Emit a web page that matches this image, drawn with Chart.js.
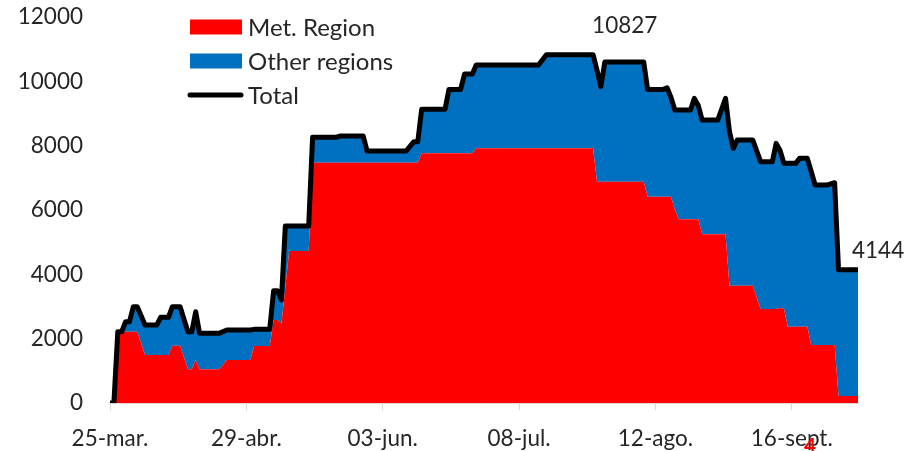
<!DOCTYPE html>
<html>
<head>
<meta charset="utf-8">
<script src="https://cdn.jsdelivr.net/npm/chart.js@4.4.1/dist/chart.umd.min.js"></script>
<style>
  html, body { margin: 0; padding: 0; background: #fff; }
  #c { display: block; }
</style>
</head>
<body>
<canvas id="c" width="918" height="451"></canvas>
<script>
// ---- data ----
// day offsets from 25-mar.
const days = [0,1,2,3,4,5,6,7,9,12,13,15,16,18,20,21,22,23,28,30,36,37,41,42,43,44,45,46,51,52,58,59,65,66,76,78,79,80,86,87,90,91,93,94,110,112,124,125,126,127,137,138,142,143,144,145,146,149,150,151,152,156,158,159,160,161,165,167,170,171,172,173,174,176,177,179,180,181,184,186,187,192];
const metRegion = [0,0,2216,2216,2216,2216,2216,2216,1492,1492,1492,1492,1782,1782,1047,1047,1337,1047,1047,1337,1337,1772,1772,2580,2580,2470,3600,4725,4725,7470,7470,7470,7470,7470,7470,7470,7470,7761,7761,7761,7761,7761,7761,7917,7917,7917,7917,6880,6880,6880,6880,6414,6414,6414,6414,6000,5710,5710,5710,5710,5243,5243,5243,3646,3646,3646,3646,2922,2922,2922,2960,2922,2372,2372,2372,2372,1803,1803,1803,1803,218,218];
const otherRegions = [0,0,0,0,311,311,777,777,933,933,1171,1171,1211,1211,1169,1169,1501,1119,1119,932,932,518,518,910,910,732,1902,777,777,789,789,830,830,363,363,653,653,1369,1369,1989,1989,2466,2466,2590,2590,2910,2910,3470,2953,3720,3720,3336,3336,3386,3086,3108,3398,3398,3760,3540,3554,3554,4227,4804,4271,4529,4529,4580,4580,5150,4890,4528,5078,5078,5233,5233,5387,4973,4973,5045,3926,3926];
const total = [0,0,2216,2216,2527,2527,2993,2993,2425,2425,2663,2663,2993,2993,2216,2216,2838,2166,2166,2269,2269,2290,2290,3490,3490,3202,5502,5502,5502,8259,8259,8300,8300,7833,7833,8123,8123,9130,9130,9750,9750,10227,10227,10507,10507,10827,10827,10350,9833,10600,10600,9750,9750,9800,9500,9108,9108,9108,9470,9250,8797,8797,9470,8450,7917,8175,8175,7502,7502,8072,7850,7450,7450,7450,7605,7605,7190,6776,6776,6848,4144,4144];
const tickDays = [0,35,70,105,140,175];
const tickLabels = ['25-mar.','29-abr.','03-jun.','08-jul.','12-ago.','16-sept.'];
const seriesNames = ['Met. Region','Other regions','Total'];
const strayMark = '4';

const FONT = 'Lato, "Open Sans", sans-serif';
const TXT = '#262626';
const RED = '#FF0000', BLUE = '#0070C0', BLACK = '#000000';

const pts = arr => days.map((d, i) => ({ x: d, y: arr[i] }));

// legend drawn inside the plot area
const insideLegend = {
  id: 'insideLegend',
  afterDraw(chart) {
    const ctx = chart.ctx;
    ctx.save();
    ctx.font = '24px ' + FONT;
    ctx.textBaseline = 'middle';
    ctx.textAlign = 'left';
    const items = [
      { name: seriesNames[0], color: RED, type: 'box', y: 27 },
      { name: seriesNames[1], color: BLUE, type: 'box', y: 61 },
      { name: seriesNames[2], color: BLACK, type: 'line', y: 95 }
    ];
    items.forEach(it => {
      if (it.type === 'box') {
        ctx.fillStyle = it.color;
        ctx.fillRect(190, it.y - 7.5, 52, 15);
      } else {
        ctx.strokeStyle = it.color;
        ctx.lineWidth = 5;
        ctx.lineCap = 'round';
        ctx.beginPath();
        ctx.moveTo(190, it.y);
        ctx.lineTo(241, it.y);
        ctx.stroke();
      }
      ctx.fillStyle = TXT;
      ctx.fillText(it.name, 248, it.y + 1);
    });
    ctx.restore();
  }
};

// value labels for the maximum and last total
const valueLabels = {
  id: 'valueLabels',
  afterDatasetsDraw(chart) {
    const ctx = chart.ctx;
    const xs = chart.scales.x, ys = chart.scales.y;
    const maxV = Math.max(...total);
    const maxI = total.lastIndexOf(maxV);
    const lastI = total.length - 1;
    ctx.save();
    ctx.font = '22.5px ' + FONT;
    ctx.fillStyle = TXT;
    ctx.textAlign = 'left';
    ctx.textBaseline = 'middle';
    ctx.fillText(String(maxV), xs.getPixelForValue(days[maxI]) - 1, ys.getPixelForValue(maxV) - 29);
    ctx.fillText(String(total[lastI]), xs.getPixelForValue(days[lastI]) - 6, ys.getPixelForValue(total[lastI]) - 19);
    // stray red mark at the bottom
    ctx.font = 'bold 21px ' + FONT;
    ctx.fillStyle = RED;
    ctx.textAlign = 'center';
    ctx.textBaseline = 'top';
    ctx.fillText(strayMark, 810, 436);
    ctx.restore();
  }
};

new Chart(document.getElementById('c'), {
  type: 'line',
  data: {
    datasets: [
      {
        label: seriesNames[2], data: pts(total), stack: 'tot', order: 0,
        borderColor: BLACK, borderWidth: 5, borderJoinStyle: 'round', borderCapStyle: 'round',
        pointRadius: 0, fill: false, tension: 0
      },
      {
        label: seriesNames[0], data: pts(metRegion), stack: 'reg', order: 1,
        borderWidth: 0, borderColor: RED, backgroundColor: RED,
        pointRadius: 0, fill: 'origin', tension: 0
      },
      {
        label: seriesNames[1], data: pts(otherRegions), stack: 'reg', order: 2,
        borderWidth: 0, borderColor: BLUE, backgroundColor: BLUE,
        pointRadius: 0, fill: '-1', tension: 0
      }
    ]
  },
  options: {
    responsive: false,
    animation: false,
    devicePixelRatio: 1,
    layout: { padding: { left: 0, right: 60, top: 17, bottom: 0 } },
    plugins: { legend: { display: false }, tooltip: { enabled: false } },
    scales: {
      x: {
        type: 'linear', min: 0, max: 192,
        afterBuildTicks: s => { s.ticks = tickDays.map(v => ({ value: v })); },
        afterFit: s => { s.height = 48; s.paddingLeft = 0; s.paddingRight = 0; },
        ticks: {
          autoSkip: false, maxRotation: 0, padding: 15,
          font: { family: FONT, size: 22.5 }, color: TXT,
          callback: v => tickLabels[tickDays.indexOf(v)]
        },
        grid: { drawOnChartArea: false, drawTicks: true, tickLength: 7, color: '#d9d9d9' },
        border: { display: true, color: '#d9d9d9', width: 1 }
      },
      y: {
        stacked: true, min: 0, max: 12000,
        afterFit: s => { s.width = 110; s.paddingTop = 0; s.paddingBottom = 0; },
        ticks: { stepSize: 2000, padding: 27, font: { family: FONT, size: 22.5 }, color: TXT,
                 callback: v => String(v) },
        grid: { display: false, drawTicks: false },
        border: { display: false }
      }
    }
  },
  plugins: [insideLegend, valueLabels]
});
</script>
</body>
</html>
